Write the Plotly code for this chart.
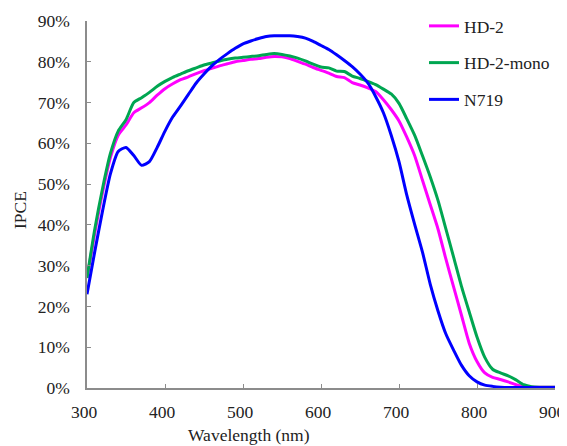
import plotly.graph_objects as go

wavelength = list(range(300, 910, 10))

hd2 = [27, 38, 48, 56.5, 62, 64.5, 67.5, 68.7, 70, 71.8,
       73.4, 74.6, 75.6, 76.3, 77.1, 77.8, 78.4, 79, 79.5, 80,
       80.3, 80.6, 80.8, 81.1, 81.3, 81.2, 80.8, 80.1, 79.4, 78.6,
       77.9, 77.2, 76.4, 76.1, 74.9, 74.3, 73.6, 72.7, 70.7, 68.3,
       65.5, 61.5, 57, 51, 45, 39, 31.7, 24.8, 17.9, 11,
       6.5, 3.7, 2.6, 2.1, 1.5, 0.8, 0.3, 0.2, 0.2, 0.2, 0.2]

hd2_mono = [27, 39, 49, 57.5, 63, 65.8, 70, 71.2, 72.5, 74,
            75.2, 76.2, 77, 77.8, 78.5, 79.2, 79.7, 80.2, 80.6, 80.9,
            81.1, 81.3, 81.5, 81.8, 82, 81.8, 81.4, 80.9, 80.2, 79.4,
            78.7, 78.5, 77.7, 77.6, 76.5, 75.9, 75.2, 74.4, 73.3, 72.1,
            69.8, 66, 62, 57, 51.8, 46, 39.1, 32.1, 25, 18.7,
            12.5, 7.5, 4.6, 3.7, 3, 2, 0.8, 0.3, 0.2, 0.2, 0.2]

n719 = [23, 33.5, 43.5, 52.5, 58, 59, 57, 54.6, 55.5, 59,
        63, 66.5, 69.2, 72, 74.8, 77, 79, 80.6, 82, 83.3,
        84.4, 85.1, 85.7, 86.2, 86.4, 86.4, 86.4, 86.2, 85.8, 85,
        84, 83, 81.7, 80.3, 78.8, 77, 74.8, 71.5, 67.5, 62,
        55.5, 47.3, 40.2, 33.4, 25.5, 18.9, 13.3, 9.3, 5.6, 3,
        1.5, 0.7, 0.4, 0.2, 0.1, 0.1, 0.1, 0.1, 0.1, 0.1, 0.1]

series_names = ["HD-2", "HD-2-mono", "N719"]
series_colors = ["#FF00FF", "#00A651", "#0000FF"]
series_values = [hd2, hd2_mono, n719]

x_ticks = [300, 400, 500, 600, 700, 800, 900]
y_ticks = [0, 10, 20, 30, 40, 50, 60, 70, 80, 90]
y_tick_labels = ["0%", "10%", "20%", "30%", "40%", "50%", "60%", "70%", "80%", "90%"]

FONT = "Liberation Serif"
TXT = "#222222"
FS = 17.5

# page body has an 8px margin, so the figure is sized to fill the window
W, H = 559, 438
ML, MR, MT, MB = 79, 12, 13, 58
PW, PH = W - ML - MR, H - MT - MB

fig = go.Figure()
for name, color, vals in zip(series_names, series_colors, series_values):
    fig.add_trace(go.Scatter(
        x=wavelength, y=vals, name=name, mode="lines",
        line=dict(color=color, width=3, shape="spline", smoothing=0.6),
        legendgroup=name,
    ))

axis_common = dict(
    showgrid=False, zeroline=False, showline=True, automargin=False,
    linecolor="#8c8c8c", linewidth=1.5,
    ticks="inside", ticklen=4, tickcolor="#8c8c8c", tickwidth=1.2,
    tickfont=dict(family=FONT, size=FS, color=TXT),
    ticklabeloverflow="allow",
)

def px_to_paper(xp, yp):
    # xp, yp: pixel position inside the figure (top-left origin)
    return (xp - ML) / PW, (H - yp - MB) / PH

xt_x, xt_y = px_to_paper(241, 427)
yt_x, yt_y = px_to_paper(12, 202)

fig.update_layout(
    width=W, height=H,
    margin=dict(l=ML, r=MR, t=MT, b=MB, autoexpand=False),
    paper_bgcolor="white", plot_bgcolor="white",
    font=dict(family=FONT, size=FS, color=TXT),
    showlegend=True,
    legend=dict(
        x=416 / W, y=1.0, xref="container", yref="container",
        xanchor="left", yanchor="top",
        bgcolor="rgba(0,0,0,0)",
        font=dict(family=FONT, size=FS, color=TXT),
        traceorder="grouped", tracegroupgap=11,
    ),
    xaxis=dict(
        range=[300, 900], tickvals=x_ticks, ticklabelstandoff=7,
        ticklabelshift=-3,
        **axis_common,
    ),
    yaxis=dict(
        range=[0, 90], tickvals=y_ticks, ticktext=y_tick_labels,
        ticklabelstandoff=12,
        **axis_common,
    ),
    annotations=[
        dict(text="Wavelength (nm)", x=xt_x, y=xt_y, xref="paper", yref="paper",
             xanchor="center", yanchor="middle",
             showarrow=False, font=dict(family=FONT, size=FS, color=TXT)),
        dict(text="IPCE", x=yt_x, y=yt_y, xref="paper", yref="paper",
             xanchor="center", yanchor="middle",
             showarrow=False, textangle=-90, font=dict(family=FONT, size=FS, color=TXT)),
    ],
)

fig.write_html("out.html")
